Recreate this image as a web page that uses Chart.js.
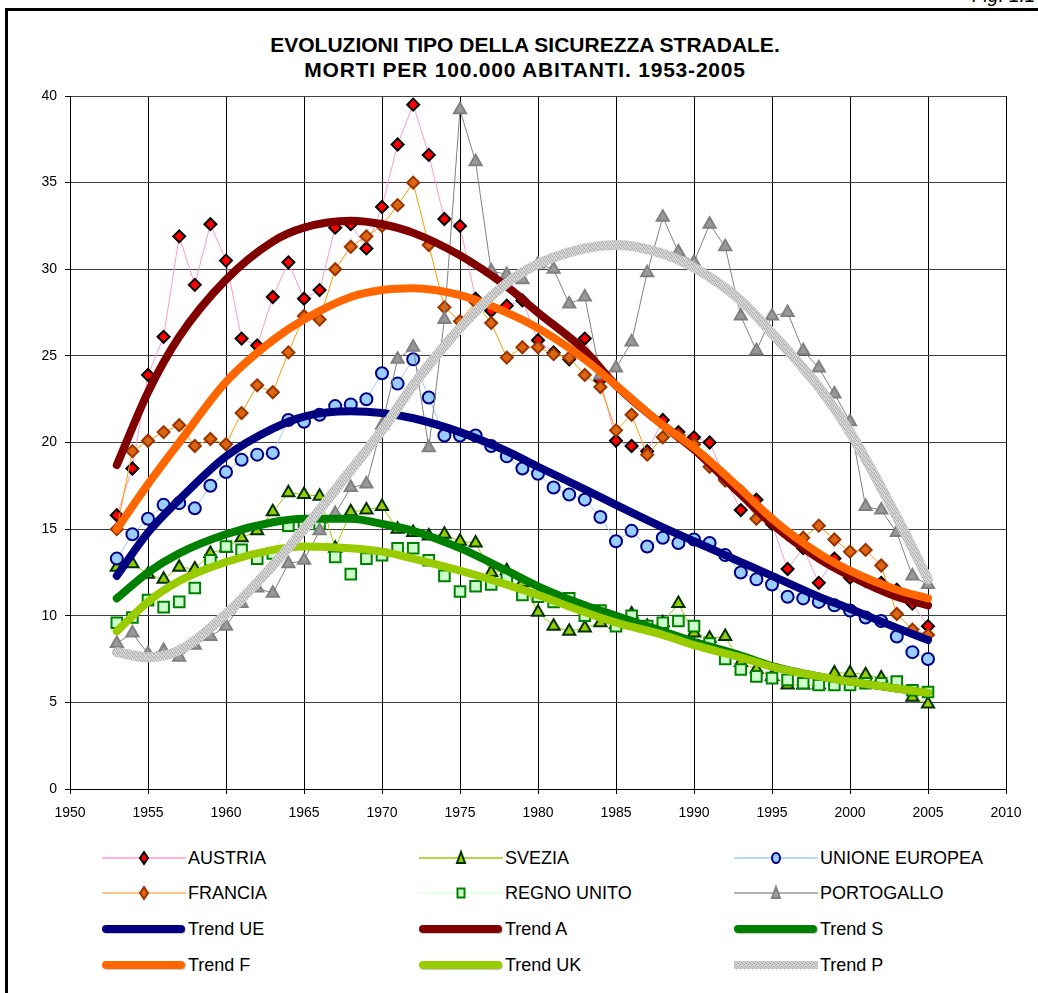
<!DOCTYPE html>
<html>
<head>
<meta charset="utf-8">
<script src="https://cdn.jsdelivr.net/npm/chart.js@4.4.1/dist/chart.umd.min.js"></script>
<style>
  html, body { margin: 0; padding: 0; background: #fff; }
  body {
    width: 1038px; height: 993px; position: relative; overflow: hidden;
    font-family: Arial, "Liberation Sans", sans-serif; color: #000;
  }
  .frame {
    position: absolute; left: 5px; top: 8px; width: 1100px; height: 1100px;
    border-left: 3px solid #000; border-top: 3px solid #000;
  }
  .fig { position: absolute; left: 972px; top: -15px; font-style: italic; font-size: 19px; white-space: nowrap; }
  .title {
    position: absolute; left: 0; top: 32px; width: 1050px; text-align: center;
    font-weight: bold; font-size: 21px; line-height: 25px;
  }
  .title .l2 { letter-spacing: 0.8px; }
  .chart-box { position: absolute; left: 0; top: 0; width: 1038px; height: 830px; }
  .legend-item {
    position: absolute; height: 20px; display: flex; align-items: center;
    font-size: 18px; white-space: nowrap;
  }
  .legend-item svg { display: block; margin-right: 2px; }
</style>
</head>
<body>
<div class="frame"></div>
<div class="fig">Fig. 1.1</div>
<div class="title">EVOLUZIONI TIPO DELLA SICUREZZA STRADALE.<br><span class="l2">MORTI PER 100.000 ABITANTI. 1953-2005</span></div>
<div class="chart-box"><canvas id="roadChart" width="1038" height="830"></canvas></div>
<div id="legend"></div>

<script>
// Years of the observed series
const years = [
  1953, 1954, 1955, 1956, 1957, 1958, 1959, 1960, 1961, 1962,
  1963, 1964, 1965, 1966, 1967, 1968, 1969, 1970, 1971, 1972,
  1973, 1974, 1975, 1976, 1977, 1978, 1979, 1980, 1981, 1982,
  1983, 1984, 1985, 1986, 1987, 1988, 1989, 1990, 1991, 1992,
  1993, 1994, 1995, 1996, 1997, 1998, 1999, 2000, 2001, 2002,
  2003, 2004, 2005,
];

// Deaths per 100.000 inhabitants
const austria = [
  15.8, 18.5, 23.9, 26.1, 31.9, 29.1, 32.6, 30.5, 26.0, 25.6,
  28.4, 30.4, 28.3, 28.8, 32.4, 32.6, 31.2, 33.6, 37.2, 39.5,
  36.6, 32.9, 32.5, 28.3, 27.6, 27.9, 28.2, 25.9, 25.2, 24.8,
  26.0, 23.6, 20.1, 19.8, 19.5, 21.3, 20.6, 20.3, 20.0, 17.9,
  16.1, 16.7, 15.3, 12.7, 13.9, 11.9, 13.3, 12.2, 12.0, 11.9,
  11.5, 10.7, 9.4,
];
const francia = [
  15.0, 19.5, 20.1, 20.6, 21.0, 19.8, 20.2, 19.9, 21.7, 23.3,
  22.9, 25.2, 27.3, 27.1, 30.0, 31.3, 31.9, 32.5, 33.7, 35.0,
  31.4, 27.8, 27.0, 28.1, 26.9, 24.9, 25.5, 25.5, 25.1, 24.9,
  23.9, 23.2, 20.7, 21.6, 19.3, 20.3, 20.4, 19.9, 18.6, 17.8,
  17.2, 15.6, 15.5, 14.7, 14.5, 15.2, 14.4, 13.7, 13.8, 12.9,
  10.1, 9.2, 8.9,
];
const unioneEuropea = [
  13.3, 14.7, 15.6, 16.4, 16.5, 16.2, 17.5, 18.3, 19.0, 19.3,
  19.4, 21.3, 21.2, 21.6, 22.1, 22.2, 22.5, 24.0, 23.4, 24.8,
  22.6, 20.4, 20.4, 20.4, 19.8, 19.2, 18.5, 18.2, 17.4, 17.0,
  16.7, 15.7, 14.3, 14.9, 14.0, 14.5, 14.2, 14.4, 14.2, 13.5,
  12.5, 12.1, 11.8, 11.1, 11.0, 10.8, 10.6, 10.3, 9.9, 9.7,
  8.8, 7.9, 7.5,
];
const svezia = [
  12.8, 13.0, 12.4, 12.1, 12.8, 12.7, 13.6, 13.9, 14.5, 14.9,
  16.0, 17.1, 17.0, 16.9, 13.9, 16.0, 16.1, 16.3, 15.0, 14.8,
  14.6, 14.7, 14.3, 14.2, 12.5, 12.6, 11.9, 10.2, 9.4, 9.1,
  9.3, 9.6, 9.5, 10.1, 9.4, 9.6, 10.7, 9.0, 8.7, 8.8,
  7.3, 6.9, 6.5, 6.0, 6.0, 6.0, 6.7, 6.7, 6.6, 6.4,
  5.9, 5.3, 4.9,
];
const regnoUnito = [
  9.6, 9.9, 10.9, 10.5, 10.8, 11.6, 13.2, 14.0, 13.8, 13.3,
  13.6, 15.2, 15.3, 15.3, 13.4, 12.4, 13.3, 13.5, 13.9, 13.9,
  13.2, 12.3, 11.4, 11.7, 11.8, 12.2, 11.2, 11.1, 10.8, 11.0,
  10.0, 10.3, 9.4, 10.0, 9.4, 9.6, 9.7, 9.4, 8.4, 7.5,
  6.9, 6.5, 6.4, 6.3, 6.1, 6.0, 6.0, 6.0, 6.1, 6.1,
  6.2, 5.7, 5.6,
];
const portogallo = [
  8.4, 9.0, 7.8, 8.0, 7.6, 8.3, 8.8, 9.4, 10.7, 11.6,
  11.3, 13.0, 13.2, 14.9, 15.9, 17.4, 17.6, 21.0, 24.8, 25.5,
  19.7, 27.1, 39.2, 36.2, 29.9, 29.7, 29.4, 30.3, 30.0, 28.0,
  28.4, 23.9, 24.3, 25.8, 29.8, 33.0, 31.0, 30.4, 32.6, 31.3,
  27.3, 25.3, 27.3, 27.5, 25.3, 24.3, 22.8, 21.2, 16.3, 16.1,
  14.8, 12.3, 11.8,
];

// Trend curves at these years
const trendYears = [
  1953, 1955, 1957, 1960, 1963, 1965, 1968, 1970, 1972, 1975, 1978,
  1980, 1983, 1985, 1988, 1990, 1993, 1995, 1998, 2000, 2003, 2005,
];
const trendUE = [
  12.3, 14.8, 16.7, 19.2, 20.8, 21.5, 21.8, 21.7, 21.4, 20.6, 19.5,
  18.6, 17.3, 16.4, 15.1, 14.3, 13.1, 12.3, 11.1, 10.4, 9.3, 8.6,
];
const trendA = [
  18.7, 22.9, 26.1, 29.4, 31.6, 32.4, 32.8, 32.6, 32.1, 30.8, 29.0,
  27.5, 25.3, 23.3, 21.0, 19.6, 17.0, 15.3, 13.3, 12.3, 11.1, 10.6,
];
const trendS = [
  11.0, 12.5, 13.6, 14.7, 15.4, 15.6, 15.6, 15.3, 14.9, 13.9, 12.6,
  11.7, 10.6, 10.0, 9.1, 8.5, 7.7, 7.1, 6.5, 6.2, 5.8, 5.55,
];
const trendF = [
  15.0, 17.6, 20.0, 23.5, 25.9, 27.1, 28.4, 28.8, 28.9, 28.5, 27.5,
  26.6, 24.8, 23.3, 21.0, 19.7, 17.3, 15.6, 13.6, 12.6, 11.5, 11.0,
];
const trendUK = [
  9.1, 10.8, 12.0, 13.1, 13.8, 14.0, 13.9, 13.7, 13.3, 12.6, 11.8,
  11.2, 10.2, 9.6, 8.9, 8.3, 7.6, 7.05, 6.5, 6.2, 5.8, 5.55,
];
const trendP = [
  7.9, 7.6, 8.0, 10.1, 12.9, 15.0, 18.4, 20.7, 23.3, 26.6, 29.2,
  30.3, 31.2, 31.4, 30.9, 30.1, 28.2, 26.3, 23.2, 20.6, 15.7, 12.1,
];

// Axis ticks
const xTicks = [1950, 1955, 1960, 1965, 1970, 1975, 1980, 1985, 1990, 1995, 2000, 2005, 2010];
const yTicks = [0, 5, 10, 15, 20, 25, 30, 35, 40];

function points(xs, ys) {
  return xs.map(function (x, i) {
    return { x: x, y: ys[i] };
  });
}

// grey textured stroke for Trend P
function greyPattern() {
  const c = document.createElement("canvas");
  c.width = 4;
  c.height = 4;
  const g = c.getContext("2d");
  g.fillStyle = "#cfcfcf";
  g.fillRect(0, 0, 4, 4);
  g.fillStyle = "#a9a9a9";
  g.fillRect(0, 0, 1, 1);
  g.fillRect(2, 1, 1, 1);
  g.fillRect(1, 2, 1, 1);
  g.fillRect(3, 3, 1, 1);
  g.fillStyle = "#e4e4e4";
  g.fillRect(2, 3, 1, 1);
  g.fillRect(0, 2, 1, 1);
  return g.createPattern(c, "repeat");
}

function observed(label, values, lineColor, shape, radius, fill, border, order) {
  return {
    label: label,
    data: points(years, values),
    showLine: true,
    borderColor: lineColor,
    borderWidth: 1,
    pointStyle: shape,
    pointRadius: radius,
    pointBackgroundColor: fill,
    pointBorderColor: border,
    pointBorderWidth: 2,
    order: order,
  };
}

function trend(label, values, color, width, order) {
  return {
    label: label,
    data: points(trendYears, values),
    showLine: true,
    borderColor: color,
    borderWidth: width,
    borderCapStyle: "round",
    borderJoinStyle: "round",
    cubicInterpolationMode: "monotone",
    pointRadius: 0,
    order: order,
  };
}

function initChart() {
  const ctx = document.getElementById("roadChart").getContext("2d");
  new Chart(ctx, {
    type: "scatter",
    data: {
      datasets: [
        observed("AUSTRIA", austria, "#FF99CC", "rectRot", 6, "#FF0000", "#000000", 20),
        observed("SVEZIA", svezia, "#99CC00", "triangle", 7, "#99CC00", "#003300", 19),
        observed("UNIONE EUROPEA", unioneEuropea, "#99CCFF", "circle", 6, "#99CCFF", "#000080", 18),
        observed("FRANCIA", francia, "#FF9900", "rectRot", 6, "#DD6611", "#993300", 17),
        observed("REGNO UNITO", regnoUnito, "#CCFFCC", "rect", 7.5, "#CCFFCC", "#008000", 16),
        observed("PORTOGALLO", portogallo, "#808080", "triangle", 7, "#999999", "#808080", 15),
        trend("Trend UE", trendUE, "#000080", 8, 10),
        trend("Trend A", trendA, "#800000", 8, 9),
        trend("Trend S", trendS, "#008000", 8, 8),
        trend("Trend F", trendF, "#FF6600", 8, 7),
        trend("Trend UK", trendUK, "#99CC00", 8, 6),
        trend("Trend P", trendP, greyPattern(), 10, 5),
      ],
    },
    options: {
      responsive: false,
      animation: false,
      devicePixelRatio: 1,
      layout: { padding: { left: 0, right: 32, top: 96, bottom: 0 } },
      plugins: {
        legend: { display: false },
        tooltip: { enabled: false },
      },
      scales: {
        x: {
          type: "linear",
          min: xTicks[0],
          max: xTicks[xTicks.length - 1],
          afterFit: function (scale) {
            scale.height = 41;
          },
          afterBuildTicks: function (scale) {
            scale.ticks = xTicks.map(function (v) {
              return { value: v };
            });
          },
          ticks: {
            color: "#000",
            padding: 11,
            maxRotation: 0,
            font: { family: "Arial, 'Liberation Sans'", size: 14 },
            callback: function (v) {
              return String(v);
            },
          },
          grid: { color: "#000", lineWidth: 1, tickLength: 5 },
          border: { color: "#000", width: 1 },
        },
        y: {
          min: yTicks[0],
          max: yTicks[yTicks.length - 1],
          afterFit: function (scale) {
            scale.width = 70;
          },
          afterBuildTicks: function (scale) {
            scale.ticks = yTicks.map(function (v) {
              return { value: v };
            });
          },
          ticks: {
            color: "#000",
            padding: 8,
            font: { family: "Arial, 'Liberation Sans'", size: 14 },
          },
          grid: { color: "#404040", lineWidth: 1, tickLength: 5, tickColor: "#000" },
          border: { color: "#000", width: 1 },
        },
      },
    },
  });
}

// Legend, three columns by four rows
const legendItems = [
  { text: "AUSTRIA", line: "#FF99CC", marker: "diamond", fill: "#FF0000", border: "#000000" },
  { text: "SVEZIA", line: "#99CC00", marker: "triangle", fill: "#99CC00", border: "#003300" },
  { text: "UNIONE EUROPEA", line: "#99CCFF", marker: "circle", fill: "#99CCFF", border: "#000080" },
  { text: "FRANCIA", line: "#FFB266", marker: "diamond", fill: "#DD6611", border: "#993300" },
  { text: "REGNO UNITO", line: "#E0FFE0", marker: "square", fill: "#CCFFCC", border: "#008000" },
  { text: "PORTOGALLO", line: "#999999", marker: "triangle", fill: "#A0A0A0", border: "#808080" },
  { text: "Trend UE", trend: "#000080" },
  { text: "Trend A", trend: "#800000" },
  { text: "Trend S", trend: "#008000" },
  { text: "Trend F", trend: "#FF6600" },
  { text: "Trend UK", trend: "#99CC00" },
  { text: "Trend P", trend: "url(#grainP)" },
];
const legendCols = [102, 419, 734];
const legendRows = [858, 893, 929, 965];

function sampleSvg(item) {
  let s = '<svg width="84" height="20" viewBox="0 0 84 20">';
  s +=
    '<defs><pattern id="grainP" width="4" height="4" patternUnits="userSpaceOnUse">' +
    '<rect width="4" height="4" fill="#cfcfcf"/><rect width="1" height="1" fill="#a9a9a9"/>' +
    '<rect x="2" y="1" width="1" height="1" fill="#a9a9a9"/><rect x="1" y="2" width="1" height="1" fill="#a9a9a9"/>' +
    '<rect x="3" y="3" width="1" height="1" fill="#a9a9a9"/></pattern></defs>';
  if (item.trend) {
    if (item.text === "Trend P") {
      s += '<rect x="0" y="6" width="84" height="8" fill="url(#grainP)"/>';
    } else {
      s += '<line x1="5" y1="11" x2="80" y2="11" stroke="#c8c8c8" stroke-width="8" stroke-linecap="round"/>';
      s += '<line x1="4" y1="10" x2="79" y2="10" stroke="' + item.trend + '" stroke-width="8" stroke-linecap="round"/>';
    }
  } else {
    s += '<line x1="0" y1="10" x2="84" y2="10" stroke="' + item.line + '" stroke-width="1.5"/>';
    const st = ' fill="' + item.fill + '" stroke="' + item.border + '" stroke-width="2"';
    if (item.marker === "diamond") {
      s += '<polygon points="42,4 46,10 42,16 38,10"' + st + "/>";
    } else if (item.marker === "triangle") {
      s += '<polygon points="42,4 46,15 38,15"' + st + "/>";
    } else if (item.marker === "circle") {
      s += '<ellipse cx="42" cy="10" rx="4" ry="5"' + st + "/>";
    } else {
      s += '<rect x="38.5" y="5.5" width="7" height="9"' + st + "/>";
    }
  }
  return s + "</svg>";
}

function renderLegend() {
  const box = document.getElementById("legend");
  box.innerHTML = legendItems
    .map(function (item, i) {
      const left = legendCols[i % 3];
      const top = legendRows[Math.floor(i / 3)] - 10;
      return (
        '<div class="legend-item" style="left:' + left + "px;top:" + top + 'px">' +
        sampleSvg(item) + "<span>" + item.text + "</span></div>"
      );
    })
    .join("");
}

renderLegend();
initChart();
</script>
</body>
</html>
